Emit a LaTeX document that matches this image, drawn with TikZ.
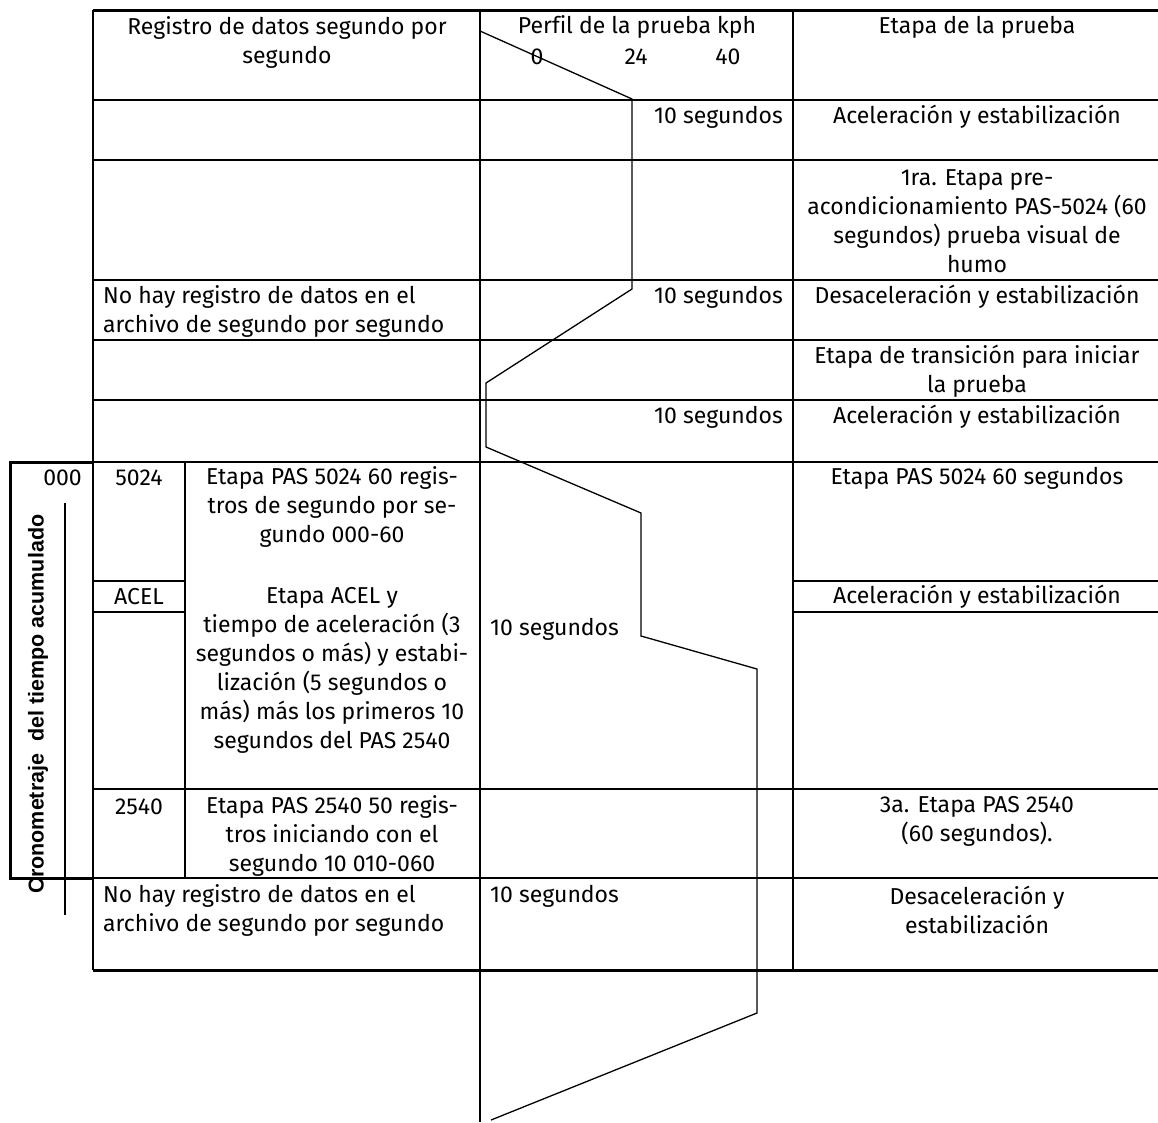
\documentclass[tikz,border=0pt]{standalone}
\usepackage{fontspec}
\setmainfont{Fira Sans}[Ligatures=NoCommon]
\newfontfamily\cronofont{Liberation Sans}[BoldFont={Liberation Sans Bold}]

\begin{document}
\begin{tikzpicture}[x=1pt, y=-1pt,
    rule/.style={line width=2pt},
    heavy/.style={line width=3pt},
    profile/.style={line width=1.3pt, line join=miter},
    txt/.style={inner sep=0pt, font=\fontsize{23}{29}\selectfont},
    ctxt/.style={txt, align=center},
    ltxt/.style={txt, align=left}]
    \useasboundingbox (0,0) rectangle (1158,1122);

    % Frame and rows
    \draw[heavy] (93,10) -- (1158,10);
    \draw[heavy] (93,970) -- (1158,970);
    \foreach \y in {100,160,280,340,400}
        \draw[rule] (93,\y) -- (1158,\y);
    \draw[rule] (10,462) -- (1158,462);
    \draw[rule] (93,789) -- (1158,789);
    \draw[rule] (10,878) -- (1158,878);
    \draw[rule] (93,581) -- (185,581);
    \draw[rule] (93,612) -- (185,612);
    \draw[rule] (793,581) -- (1158,581);
    \draw[rule] (793,612) -- (1158,612);

    % Columns
    \draw[rule] (93,10) -- (93,970);
    \draw[rule] (185,462) -- (185,878);
    \draw[rule] (480,10) -- (480,1122);
    \draw[rule] (793,10) -- (793,970);

    % Accumulated time box
    \draw[heavy] (93,462) -- (10,462) -- (10,878) -- (93,878);
    \draw[line width=1.5pt] (65,503) -- (65,915);
    \node[font=\cronofont\bfseries\fontsize{21.5}{25}\selectfont, rotate=90, inner sep=0pt]
        (crono) at (38,704) {Cronometraje\ \ del tiempo acumulado};

    % Speed profile
    \draw[profile] (480,31) -- (632,99) -- (632,289) -- (486,383) -- (486,447)
        -- (641,513) -- (641,636) -- (757,669) -- (757,1013) -- (491,1120);

    % Header
    \node[ctxt] (hreg) at (287,42) {Registro de datos segundo por\\segundo};
    \node[txt] (hperf) at (637,27) {Perfil de la prueba kph};
    \node[txt] (k0) at (537,57) {0};
    \node[txt] (k24) at (636,57) {24};
    \node[txt] (k40) at (728,57) {40};
    \node[txt] (hetapa) at (977,27) {Etapa de la prueba};

    % Upper rows
    \node[txt, anchor=east] (s1) at (783,117) {10 segundos};
    \node[txt] (e1) at (977,117) {Aceleración y estabilización};
    \node[ctxt] (e2) at (977,221) {1ra. Etapa pre-\\acondicionamiento PAS-5024 (60\\segundos) prueba visual de\\humo};
    \node[ltxt, anchor=west] (r3) at (103,311) {No hay registro de datos en el\\archivo de segundo por segundo};
    \node[txt, anchor=east] (s3) at (783,297) {10 segundos};
    \node[txt] (e3) at (977,297) {Desaceleración y estabilización};
    \node[ctxt] (e4) at (977,371) {Etapa de transición para iniciar\\la prueba};
    \node[txt, anchor=east] (s5) at (783,417) {10 segundos};
    \node[txt] (e5) at (977,417) {Aceleración y estabilización};

    % Timed rows
    \node[txt, anchor=east] (t0) at (82,478) {000};
    \node[txt] (c1) at (139,478) {5024};
    \node[txt] (c2) at (139,597) {ACEL};
    \node[txt] (c3) at (139,807) {2540};
    \node[ctxt] (m1) at (332,507) {Etapa PAS 5024 60 regis-\\tros de segundo por se-\\gundo 000-60};
    \node[ctxt] (m2) at (332,670) {Etapa ACEL y\\tiempo de aceleración (3\\segundos o más) y estabi-\\lización (5 segundos o\\más) más los primeros 10\\segundos del PAS 2540};
    \node[ctxt] (m3) at (332,836) {Etapa PAS 2540 50 regis-\\tros iniciando con el\\segundo 10 010-060};
    \node[txt, anchor=west] (s6) at (490,629) {10 segundos};
    \node[txt] (e6) at (977,478) {Etapa PAS 5024 60 segundos};
    \node[txt] (e7) at (977,597) {Aceleración y estabilización};
    \node[ctxt] (e8) at (977,821) {3a. Etapa PAS 2540\\(60 segundos).};

    % Last row
    \node[ltxt, anchor=west] (r9) at (103,910) {No hay registro de datos en el\\archivo de segundo por segundo};
    \node[txt, anchor=west] (s9) at (490,896) {10 segundos};
    \node[ctxt] (e9) at (977,910) {Desaceleración y\\estabilización};
\end{tikzpicture}
\end{document}
